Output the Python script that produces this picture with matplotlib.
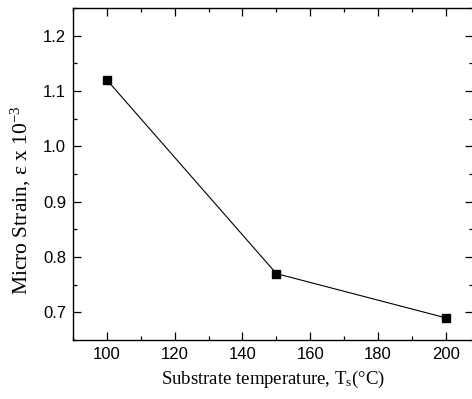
import matplotlib

matplotlib.use("Agg")
import matplotlib.pyplot as plt
from matplotlib.ticker import MultipleLocator

# Data
temperature = [100, 150, 200]
micro_strain = [1.12, 0.77, 0.69]

plt.rcParams.update({
    "font.family": "Liberation Sans",
    "mathtext.fontset": "custom",
    "mathtext.rm": "Liberation Serif",
    "mathtext.it": "Liberation Serif:italic",
    "xtick.direction": "in",
    "ytick.direction": "in",
    "xtick.top": True,
    "ytick.right": True,
})

fig = plt.figure(figsize=(4.72, 3.99), dpi=100)
ax = fig.add_axes([73 / 472, 1 - 340 / 399, 1 - 73 / 472 + 0.002, (340 - 8) / 399])

ax.plot(temperature, micro_strain, color="black", linewidth=0.8,
        marker="s", markersize=6)

ax.set_xlim(90, 208)
ax.set_ylim(0.65, 1.25)
ax.xaxis.set_major_locator(MultipleLocator(20))
ax.xaxis.set_minor_locator(MultipleLocator(10))
ax.yaxis.set_major_locator(MultipleLocator(0.1))
ax.yaxis.set_minor_locator(MultipleLocator(0.05))
ax.yaxis.set_major_formatter(plt.FormatStrFormatter("%.1f"))
ax.tick_params(which="major", length=6, width=0.9, labelsize=12, pad=5)
ax.tick_params(which="minor", length=3, width=0.9)
for s in ax.spines.values():
    s.set_linewidth(1.0)

ax.set_xlabel(r"Substrate temperature, T$_{\rm s}$(°C)", family="Liberation Serif",
              fontsize=13.5, labelpad=5)
ax.set_ylabel(r"Micro Strain, ε x 10$^{-3}$", family="Liberation Serif",
              fontsize=15.5)
# label sits a bit below the axes centre in the original
ax.yaxis.set_label_coords(-0.10, 0.42)

fig.savefig("out.png", dpi=100)
